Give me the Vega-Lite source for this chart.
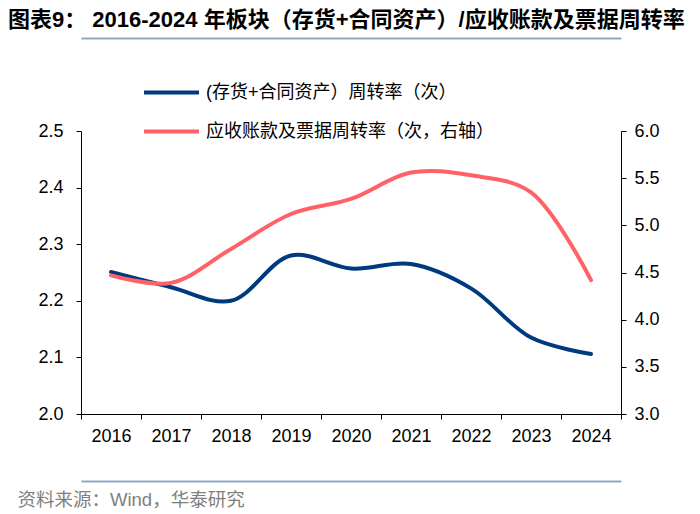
{
  "$schema": "https://vega.github.io/schema/vega-lite/v6.json",
  "width": 540,
  "height": 283,
  "autosize": {"type": "none"},
  "padding": {"left": 81, "top": 131, "right": 79, "bottom": 100},
  "background": "white",
  "title": {
    "text": "图表9： 2016-2024 年板块（存货+合同资产）/应收账款及票据周转率",
    "anchor": "start",
    "frame": "group",
    "dx": -73,
    "fontSize": 22,
    "fontWeight": "bold",
    "font": "Liberation Sans, Noto Sans CJK SC",
    "color": "#000000",
    "offset": 6
  },
  "config": {
    "view": {"stroke": null},
    "font": "Liberation Sans, Noto Sans CJK SC"
  },
  "data": {
    "values": [
      {"year": "2016", "series": "(存货+合同资产）周转率（次）", "value": 2.251},
      {"year": "2017", "series": "(存货+合同资产）周转率（次）", "value": 2.224},
      {"year": "2018", "series": "(存货+合同资产）周转率（次）", "value": 2.200},
      {"year": "2019", "series": "(存货+合同资产）周转率（次）", "value": 2.280},
      {"year": "2020", "series": "(存货+合同资产）周转率（次）", "value": 2.257},
      {"year": "2021", "series": "(存货+合同资产）周转率（次）", "value": 2.265},
      {"year": "2022", "series": "(存货+合同资产）周转率（次）", "value": 2.222},
      {"year": "2023", "series": "(存货+合同资产）周转率（次）", "value": 2.135},
      {"year": "2024", "series": "(存货+合同资产）周转率（次）", "value": 2.106},
      {"year": "2016", "series": "应收账款及票据周转率（次，右轴）", "value": 4.47},
      {"year": "2017", "series": "应收账款及票据周转率（次，右轴）", "value": 4.39},
      {"year": "2018", "series": "应收账款及票据周转率（次，右轴）", "value": 4.75},
      {"year": "2019", "series": "应收账款及票据周转率（次，右轴）", "value": 5.12},
      {"year": "2020", "series": "应收账款及票据周转率（次，右轴）", "value": 5.28},
      {"year": "2021", "series": "应收账款及票据周转率（次，右轴）", "value": 5.56},
      {"year": "2022", "series": "应收账款及票据周转率（次，右轴）", "value": 5.53},
      {"year": "2023", "series": "应收账款及票据周转率（次，右轴）", "value": 5.35},
      {"year": "2024", "series": "应收账款及票据周转率（次，右轴）", "value": 4.42}
    ]
  },
  "layer": [
    {
      "transform": [{"filter": "datum.series === '(存货+合同资产）周转率（次）'"}],
      "mark": {"type": "line", "interpolate": "catmull-rom", "strokeWidth": 4, "strokeCap": "round"},
      "encoding": {
        "x": {
          "field": "year", "type": "ordinal", "bandPosition": 0.5,
          "scale": {"type": "band", "paddingInner": 0, "paddingOuter": 0},
          "axis": {
            "orient": "bottom", "tickBand": "extent", "labelAngle": 0,
            "domainColor": "#000000", "tickColor": "#000000", "tickSize": 5,
            "labelFontSize": 18, "labelColor": "#000000", "labelPadding": 8,
            "title": "资料来源：Wind，华泰研究", "titleAnchor": "start", "titleAlign": "left",
            "titleX": -64, "titleY": 85, "titleBaseline": "middle",
            "titleFontSize": 18.5, "titleFontWeight": "normal", "titleColor": "#7F7F7F",
            "titleFont": "Liberation Sans, Noto Sans CJK SC"
          }
        },
        "y": {
          "field": "value", "type": "quantitative",
          "scale": {"domain": [2.0, 2.5], "zero": false, "nice": false},
          "axis": {
            "orient": "left", "values": [2.0, 2.1, 2.2, 2.3, 2.4, 2.5], "format": ".1f",
            "grid": false, "domainColor": "#000000", "tickColor": "#000000", "tickSize": 5,
            "labelFontSize": 18, "labelColor": "#000000", "labelPadding": 13, "title": null
          }
        },
        "color": {
          "field": "series", "type": "nominal",
          "scale": {
            "domain": ["(存货+合同资产）周转率（次）", "应收账款及票据周转率（次，右轴）"],
            "range": ["#003A7E", "#FF6266"]
          },
          "legend": {
            "orient": "none", "legendX": 61, "legendY": -68, "title": null,
            "symbolType": "stroke", "symbolSize": 3025, "symbolStrokeWidth": 4,
            "labelFontSize": 18, "labelColor": "#000000", "labelOffset": 5,
            "rowPadding": -19, "direction": "vertical", "labelLimit": 500, "padding": 0
          }
        }
      }
    },
    {
      "transform": [{"filter": "datum.series === '应收账款及票据周转率（次，右轴）'"}],
      "mark": {"type": "line", "interpolate": "catmull-rom", "strokeWidth": 4, "strokeCap": "round"},
      "encoding": {
        "x": {
          "field": "year", "type": "ordinal", "bandPosition": 0.5,
          "axis": {
            "orient": "top", "offset": 93, "labels": false, "ticks": false,
            "domainColor": "#8EA9C8", "domainWidth": 2, "title": null
          }
        },
        "y": {
          "field": "value", "type": "quantitative",
          "scale": {"domain": [3.0, 6.0], "zero": false, "nice": false},
          "axis": {
            "orient": "right", "values": [3.0, 3.5, 4.0, 4.5, 5.0, 5.5, 6.0], "format": ".1f",
            "grid": false, "domainColor": "#000000", "tickColor": "#000000", "tickSize": 5,
            "labelFontSize": 18, "labelColor": "#000000", "labelPadding": 8, "title": null
          }
        },
        "color": {"field": "series", "type": "nominal"}
      }
    },
    {
      "transform": [{"filter": "datum.series === '应收账款及票据周转率（次，右轴）'"}],
      "mark": {"type": "line", "opacity": 0},
      "encoding": {
        "x": {
          "field": "year", "type": "ordinal", "bandPosition": 0.5,
          "axis": {
            "orient": "bottom", "offset": 67, "labels": false, "ticks": false,
            "domainColor": "#8EA9C8", "domainWidth": 2, "title": null
          }
        },
        "y": {"field": "value", "type": "quantitative", "axis": null}
      }
    }
  ],
  "resolve": {"scale": {"y": "independent"}, "axis": {"x": "independent"}}
}
